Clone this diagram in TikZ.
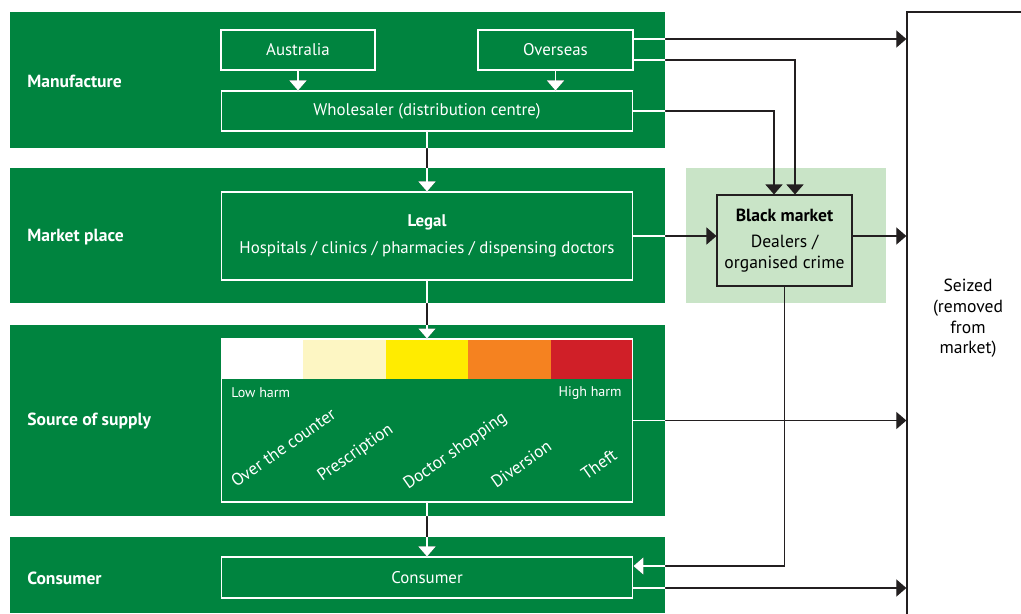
\documentclass[tikz,border=0pt]{standalone}
\usepackage{fontspec}
\setmainfont{PT Sans}
\usetikzlibrary{arrows.meta, positioning, calc}
\definecolor{supplyGreen}{HTML}{00843F}
\definecolor{blackMint}{HTML}{C9E4C7}
\definecolor{flowInk}{HTML}{231F20}
\definecolor{harmCream}{HTML}{FDF6C3}
\definecolor{harmYellow}{HTML}{FFEC00}
\definecolor{harmOrange}{HTML}{F58220}
\definecolor{harmRed}{HTML}{D01F28}

% all connectors, drawn once in ink and once (clipped to the bands) in white
\newcommand{\supplyflows}[1]{%
    \draw[#1] (aus.south) -- (aus.south |- whs.north);
    \draw[#1] (ovs.south) -- (ovs.south |- whs.north);
    \draw[#1] (whs.south) -- (legal.north);
    \draw[#1] (legal.south) -- (supply.north);
    \draw[#1] (supply.south) -- (cons.north);
    \draw[#1] (ovsA) -- (ovsA -| seized.west);
    \draw[#1] (ovsB) -| (bmB);
    \draw[#1] (whs.east) -| (bmA);
    \draw[#1] (legal.east) -- (legal.east -| bm.west);
    \draw[#1] (bm.east |- legal.east) -- (legal.east -| seized.west);
    \draw[#1] (supply.east) -- (supply.east -| seized.west);
    \draw[#1] (bm.south) |- (consA);
    \draw[#1] (consB) -- (consB -| seized.west);
}

\begin{document}
\begin{tikzpicture}[
    x=0.02cm, y=-0.02cm,
    band/.style={fill=supplyGreen},
    stage/.style={
        anchor=west,
        font=\fontsize{10}{12}\selectfont\bfseries,
        text=white,
        inner sep=0pt
    },
    box/.style={
        draw=white,
        line width=0.6pt,
        text=white,
        align=center,
        font=\fontsize{9.6}{11.5}\selectfont,
        inner sep=0pt
    },
    harm/.style={font=\fontsize{8}{10}\selectfont, text=white, inner sep=0pt},
    source/.style={
        anchor=base west,
        rotate=35,
        font=\fontsize{9.8}{11}\selectfont,
        text=white,
        inner sep=0pt
    },
    flowink/.style={-{Triangle[length=2mm, width=3.4mm]}, draw=flowInk, line width=0.7pt},
    flowwhite/.style={-{Triangle[length=2mm, width=3.4mm]}, draw=white, line width=0.8pt}
]

\useasboundingbox (0,0) rectangle (1021,613);

% Stage bands
\foreach \ytop/\ybot in {12/148, 168/303, 325/516, 537/613} {
    \fill[band] (10,\ytop) rectangle (665,\ybot);
}
\fill[blackMint] (686,168) rectangle (886,303);

% Stage labels
\node[stage] (lblman) at (27,81) {Manufacture};
\node[stage] (lblmkt) at (27,237) {Market place};
\node[stage] (lblsrc) at (27,421) {Source of supply};
\node[stage] (lblcon) at (27,578) {Consumer};

% Harm scale
\foreach \c [count=\i] in {white, harmCream, harmYellow, harmOrange, harmRed} {
    \fill[\c] (221+82.4*\i-82.4,339) rectangle (221+82.4*\i,379);
}

% Boxes
\node[box, minimum width=3.08cm, minimum height=0.8cm] (aus) at (298,50) {Australia};
\node[box, minimum width=3.10cm, minimum height=0.8cm] (ovs) at (555.5,50) {Overseas};
\node[box, minimum width=8.24cm, minimum height=0.8cm] (whs) at (427,111)
    {Wholesaler (distribution centre)};
\node[box, minimum width=8.24cm, minimum height=1.76cm] (legal) at (427,236)
    {\textbf{Legal}\\[4pt]Hospitals / clinics / pharmacies / dispensing doctors};
\node[box, minimum width=8.24cm, minimum height=3.26cm] (supply) at (427,420.5) {};
\node[box, minimum width=8.24cm, minimum height=0.82cm] (cons) at (427,577.5) {Consumer};
\node[box, draw=flowInk, text=black, minimum width=2.7cm, minimum height=1.82cm,
    font=\fontsize{10}{12}\selectfont] (bm) at (784.5,240.5)
    {\textbf{Black market}\\[3pt]Dealers /\\organised crime};
\node[box, draw=flowInk, text=black, line width=0.75pt, minimum width=2.44cm, minimum height=12.26cm,
    font=\fontsize{10}{11.7}\selectfont] (seized) at (968,318.5)
    {Seized\\(removed\\from\\market)};

% Harm labels and sources
\node[harm, anchor=west] (lowharm) at (231,393) {Low harm};
\node[harm, anchor=east] (highharm) at (622,393) {High harm};
\node[source] (otc) at (236,488) {Over the counter};
\node[source] (presc) at (322,482) {Prescription};
\node[source] (doctor) at (408,490) {Doctor shopping};
\node[source] (divers) at (496,489) {Diversion};
\node[source] (theft) at (586,481) {Theft};

% Connector end points
\coordinate (ovsA) at ([yshift=0.22cm]ovs.east);
\coordinate (ovsB) at ([yshift=-0.2cm]ovs.east);
\coordinate (bmA) at ([xshift=-0.21cm]bm.north);
\coordinate (bmB) at ([xshift=0.21cm]bm.north);
\coordinate (consA) at ([yshift=0.23cm]cons.east);
\coordinate (consB) at ([yshift=-0.21cm]cons.east);

\supplyflows{flowink}
\begin{scope}
    \clip (10,12) rectangle (665,148) (10,168) rectangle (665,303)
        (10,325) rectangle (665,516) (10,537) rectangle (665,613);
    \supplyflows{flowwhite}
\end{scope}

\end{tikzpicture}
\end{document}
